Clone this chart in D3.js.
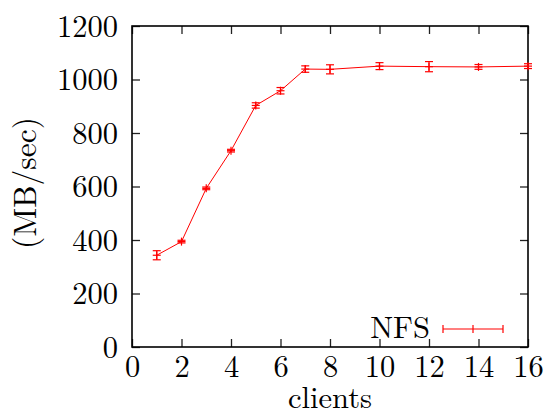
<!DOCTYPE html>
<html>
<head>
<meta charset="utf-8">
<script src="https://cdn.jsdelivr.net/npm/d3@7"></script>
<style>
  html, body { margin: 0; padding: 0; background: #fff; }
  svg { display: block; }
</style>
</head>
<body>
<svg id="chart" width="556" height="416"></svg>
<script>
// Throughput measured for increasing numbers of NFS clients
const clients = [1, 2, 3, 4, 5, 6, 7, 8, 10, 12, 14, 16];
const throughput = [343, 394, 593, 734, 903, 958, 1039, 1038, 1050, 1048, 1047, 1050];
const spread = [17, 5, 5, 5, 10, 12, 12, 17, 13, 19, 9, 9];
const xTicks = [0, 2, 4, 6, 8, 10, 12, 14, 16];
const yTicks = [0, 200, 400, 600, 800, 1000, 1200];
const seriesName = "NFS";
const xTitle = "clients";
const yTitle = "(MB/sec)";

const rows = clients.map((c, i) => ({ x: c, y: throughput[i], e: spread[i] }));

const svg = d3.select("#chart");
const plotLeft = 132, plotRight = 528, plotTop = 26, plotBottom = 347;
const fontSize = 30.5;
const roman = "'Latin Modern Roman'";

const x = d3.scaleLinear().domain([0, 16]).range([plotLeft, plotRight]);
const y = d3.scaleLinear().domain([0, 1200]).range([plotBottom, plotTop]);

const tickLen = 8;
const axisColor = "#222";

function setFont(sel) {
  sel.attr("font-family", null)
    .style("font-family", roman)
    .style("font-size", fontSize + "px")
    .attr("fill", "#000");
}

// Inward ticks on all four sides
function styleAxis(g) {
  g.attr("font-family", null);
  g.select(".domain").remove();
  g.selectAll(".tick line").attr("stroke", axisColor).attr("stroke-width", 1.3);
}

svg.append("g")
  .attr("transform", `translate(0,${plotBottom})`)
  .call(d3.axisBottom(x).tickValues(xTicks).tickSizeInner(-tickLen).tickSizeOuter(0).tickFormat(d3.format("d")))
  .call(styleAxis)
  .call(g => g.selectAll(".tick text")
    .attr("y", 30).attr("dy", null)
    .call(setFont));

svg.append("g")
  .attr("transform", `translate(0,${plotTop})`)
  .call(d3.axisTop(x).tickValues(xTicks).tickSizeInner(-tickLen).tickSizeOuter(0).tickFormat(""))
  .call(styleAxis);

svg.append("g")
  .attr("transform", `translate(${plotLeft},0)`)
  .call(d3.axisLeft(y).tickValues(yTicks).tickSizeInner(-tickLen).tickSizeOuter(0).tickPadding(14).tickFormat(d3.format("d")))
  .call(styleAxis)
  .call(g => g.selectAll(".tick text")
    .attr("dy", "0.33em")
    .call(setFont));

svg.append("g")
  .attr("transform", `translate(${plotRight},0)`)
  .call(d3.axisRight(y).tickValues(yTicks).tickSizeInner(-tickLen).tickSizeOuter(0).tickFormat(""))
  .call(styleAxis);

// Border frame
svg.append("rect")
  .attr("x", plotLeft).attr("y", plotTop)
  .attr("width", plotRight - plotLeft).attr("height", plotBottom - plotTop)
  .attr("fill", "none").attr("stroke", "#000").attr("stroke-width", 1.6);

// Axis titles
svg.append("text")
  .attr("x", (plotLeft + plotRight) / 2)
  .attr("y", 408)
  .attr("text-anchor", "middle")
  .call(setFont)
  .text(xTitle);

svg.append("text")
  .attr("transform", `translate(36,183) rotate(-90)`)
  .attr("text-anchor", "middle")
  .call(setFont)
  .style("font-size", "31.5px")
  .text(yTitle);

// Series line
const red = "#ff0000";
const line = d3.line().x(d => x(d.x)).y(d => y(d.y));
svg.append("path")
  .datum(rows)
  .attr("fill", "none")
  .attr("stroke", red)
  .attr("stroke-width", 1)
  .attr("d", line);

// Error bars with caps and point markers
const cap = 4, mark = 4;
const eb = svg.append("g").attr("stroke", red).attr("stroke-width", 1.2).attr("fill", "none");
rows.forEach(d => {
  const cx = x(d.x), y0 = y(d.y - d.e), y1 = y(d.y + d.e), cy = y(d.y);
  eb.append("line").attr("x1", cx).attr("x2", cx).attr("y1", y0).attr("y2", y1);
  eb.append("line").attr("x1", cx - cap).attr("x2", cx + cap).attr("y1", y0).attr("y2", y0);
  eb.append("line").attr("x1", cx - cap).attr("x2", cx + cap).attr("y1", y1).attr("y2", y1);
  eb.append("line").attr("x1", cx - mark).attr("x2", cx + mark).attr("y1", cy).attr("y2", cy);
  eb.append("line").attr("x1", cx).attr("x2", cx).attr("y1", cy - mark).attr("y2", cy + mark);
});

// Legend
const lg = svg.append("g");
lg.append("text")
  .attr("x", 430).attr("y", 338)
  .attr("text-anchor", "end")
  .call(setFont)
  .text(seriesName);
const ly = 329, lx0 = 443, lx1 = 503, lxm = (lx0 + lx1) / 2;
const lgl = lg.append("g").attr("stroke", red).attr("stroke-width", 1.2);
lgl.append("line").attr("x1", lx0).attr("x2", lx1).attr("y1", ly).attr("y2", ly);
lgl.append("line").attr("x1", lx0).attr("x2", lx0).attr("y1", ly - 4).attr("y2", ly + 4);
lgl.append("line").attr("x1", lx1).attr("x2", lx1).attr("y1", ly - 4).attr("y2", ly + 4);
lgl.append("line").attr("x1", lxm).attr("x2", lxm).attr("y1", ly - 4).attr("y2", ly + 4);
</script>
</body>
</html>
